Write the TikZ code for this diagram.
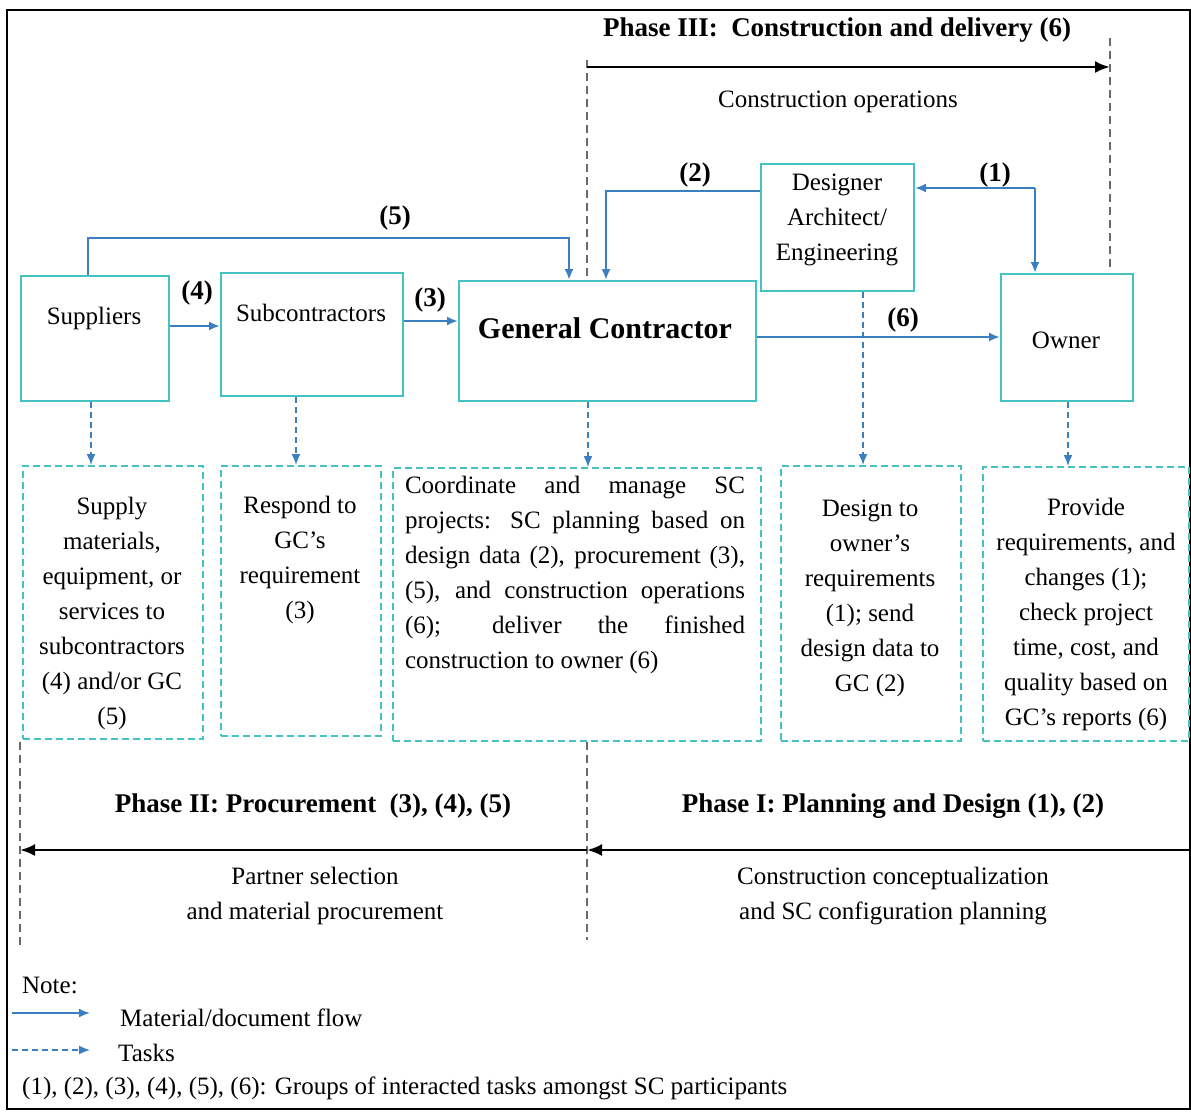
\documentclass[tikz,border=0pt]{standalone}
\usepackage{fontspec}
\setmainfont{Liberation Serif}
\usetikzlibrary{arrows.meta}
\definecolor{boxc}{HTML}{45C2C2}
\definecolor{flow}{HTML}{3B7FC0}
\definecolor{guide}{HTML}{6A6A6A}
\begin{document}
\begin{tikzpicture}[x=1pt,y=-1pt,
 pbox/.style={draw=boxc, line width=2pt, rectangle, inner sep=0pt, anchor=north west},
 tbox/.style={draw=boxc, line width=1.8pt, dash pattern=on 7pt off 4pt, rectangle, inner sep=0pt, anchor=north west},
 txt/.style={font=\fontsize{25}{35}\selectfont, align=center, inner sep=0pt},
 btxt/.style={font=\fontsize{27}{32}\selectfont\bfseries, inner sep=0pt},
 flowarrow/.style={draw=flow, line width=2.4pt, -{Latex[length=11pt,width=9pt]}},
 taskarrow/.style={draw=flow, line width=1.6pt, dash pattern=on 6pt off 4pt, -{Latex[length=11pt,width=9pt]}},
 guideline/.style={draw=guide, line width=1.2pt, dash pattern=on 8pt off 5pt},
 phasearrow/.style={draw=black, line width=2.6pt, -{Latex[length=15pt,width=12pt]}},
]
\fill[white] (0,0) rectangle (1191,1112);
\useasboundingbox (0,0) rectangle (1191,1112);
\draw[line width=2.6pt] (7,10) rectangle (1190,1109);

% guides
\draw[guideline] (587,60) -- (587,278);
\draw[guideline] (587,742) -- (587,940);
\draw[guideline] (1110,38) -- (1110,268);
\draw[guideline] (20,742) -- (20,945);

% phase arrows
\coordinate (p3a) at (587,67);
\coordinate (p3b) at (1110,67);
\draw[phasearrow] (p3a) -- (p3b);
\coordinate (p1a) at (1191,850);
\coordinate (p1b) at (587,850);
\coordinate (p2b) at (20,850);
\draw[phasearrow] (p1a) -- (p1b);
\draw[phasearrow] (p1b) -- (p2b);

\node[btxt] (ph3) at (837,30) {Phase III:\ \ Construction and delivery (6)};
\node[txt] (ph3s) at (838,102) {Construction operations};
\node[btxt] (ph2) at (313,806) {Phase II: Procurement\ \ (3), (4), (5)};
\node[btxt] (ph1) at (893,806) {Phase I: Planning and Design\ (1), (2)};
\node[txt] (ph2s) at (315,896) {Partner selection\\and material procurement};
\node[txt] (ph1s) at (893,896) {Construction conceptualization\\and SC configuration planning};

% participant boxes
\node[pbox, minimum width=148, minimum height=125] (sup) at (20,275) {};
\node[txt] (supt) at (94,318) {Suppliers};
\node[pbox, minimum width=182, minimum height=123] (sub) at (220,272) {};
\node[txt] (subt) at (311,313) {Subcontractors};
\node[pbox, minimum width=297, minimum height=120] (gc) at (458,280) {};
\node[font=\fontsize{30}{34}\selectfont\bfseries, inner sep=0pt] (gct) at (605,328) {General Contractor};
\node[pbox, minimum width=153, minimum height=127] (des) at (760,163) {};
\node[txt] (dest) at (837,220) {Designer\\Architect/\\Engineering};
\node[pbox, minimum width=132, minimum height=127] (own) at (1000,273) {};
\node[txt] (ownt) at (1066,340) {Owner};

% task boxes
\node[tbox, minimum width=180, minimum height=273] (t1) at (22,465) {};
\node[tbox, minimum width=160, minimum height=270] (t2) at (220,465) {};
\node[tbox, minimum width=368, minimum height=273] (t3) at (392,467) {};
\node[tbox, minimum width=180, minimum height=275] (t4) at (780,465) {};
\node[tbox, minimum width=206, minimum height=274] (t5) at (982,466) {};

\node[txt] (t1t) at (112,613) {Supply\\materials,\\equipment, or\\services to\\subcontractors\\(4) and/or GC\\(5)};
\node[txt] (t2t) at (300,560) {Respond to\\GC's\\requirement\\(3)};
\node[txt, align=left] (t3t) at (575,575) {\makebox[340pt][s]{Coordinate and manage SC}\\
\makebox[340pt][s]{projects: SC planning based on}\\
\makebox[340pt][s]{design data (2), procurement (3),}\\
\makebox[340pt][s]{(5), and construction operations}\\
\makebox[340pt][s]{(6); deliver the finished}\\
construction to owner (6)};
\node[txt] (t4t) at (870,598) {Design to\\owner's\\requirements\\(1); send\\design data to\\GC (2)};
\node[txt] (t5t) at (1086,614) {Provide\\requirements, and\\changes (1);\\check project\\time, cost, and\\quality based on\\GC's reports (6)};

% flow arrows
\draw[flowarrow] ([yshift=12.5pt]sup.east) -- ([yshift=8.5pt]sub.west);
\node[btxt] (l4) at (197,293) {(4)};
\draw[flowarrow] ([yshift=13.5pt]sub.east) -- ([yshift=20pt]gc.west);
\node[btxt] (l3) at (430,300) {(3)};
\coordinate (g6) at ([yshift=4pt]gc.east);
\draw[flowarrow] (g6) -- (g6 -| own.west);
\node[btxt] (l6) at (903,320) {(6)};
\draw[flowarrow] ([xshift=-7pt]sup.north) -- ++(0,-37) -| ([xshift=-38.5pt]gc.north);
\node[btxt] (l5) at (395,218) {(5)};
\draw[flowarrow] ([yshift=36.5pt]des.west) -| ([xshift=-1.5pt]gc.north);
\node[btxt] (l2) at (695,175) {(2)};
\coordinate (c1) at (1035,188);
\draw[flowarrow] (c1) -- (c1 -| des.east);
\draw[flowarrow] (c1) -- (c1 |- own.north);
\node[btxt] (l1) at (995,175) {(1)};

% task arrows
\coordinate (a1) at ([xshift=-4pt]sup.south);
\draw[taskarrow] (a1) -- (a1 |- t1.north);
\coordinate (a2) at ([xshift=-16pt]sub.south);
\draw[taskarrow] (a2) -- (a2 |- t2.north);
\coordinate (a3) at ([xshift=-19.5pt]gc.south);
\draw[taskarrow] (a3) -- (a3 |- t3.north);
\coordinate (a4) at ([xshift=25.5pt]des.south);
\draw[taskarrow] (a4) -- (a4 |- t4.north);
\coordinate (a5) at ([xshift=1pt]own.south);
\draw[taskarrow] (a5) -- (a5 |- t5.north);

% legend
\node[txt, anchor=west] (note) at (22,985) {Note:};
\coordinate (la1) at (12,1013);
\coordinate (la2) at (90,1013);
\draw[flowarrow, line width=1.8pt] (la1) -- (la2);
\node[txt, anchor=west] (lg1) at (120,1018) {Material/document flow};
\coordinate (lb1) at (12,1050);
\coordinate (lb2) at (90,1050);
\draw[taskarrow] (lb1) -- (lb2);
\node[txt, anchor=west] (lg2) at (118,1053) {Tasks};
\node[txt, anchor=west] (lg3) at (22,1088) {(1), (2), (3), (4), (5), (6): Groups of interacted tasks amongst SC participants};
\end{tikzpicture}
\end{document}
